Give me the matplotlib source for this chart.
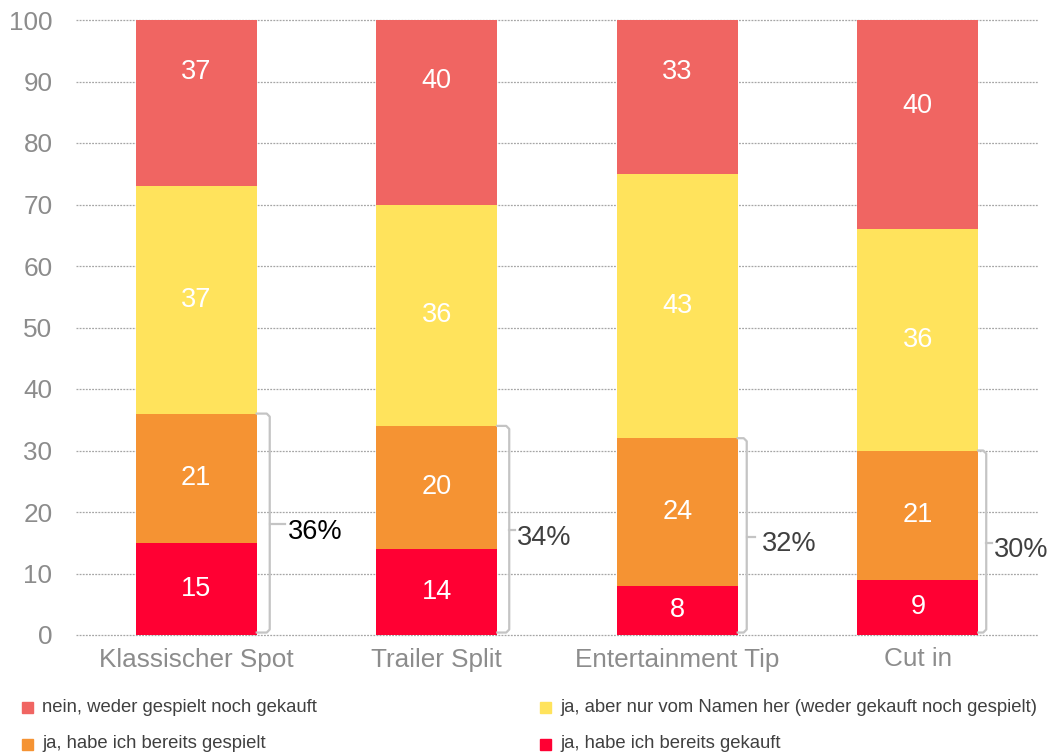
import matplotlib.pyplot as plt
from matplotlib.patches import Rectangle
import numpy as np

plt.rcParams['font.family'] = ['Liberation Sans', 'DejaVu Sans']

# data
categories = ["Klassischer Spot", "Trailer Split", "Entertainment Tip", "Cut in"]
gekauft = [15, 14, 8, 9]
gespielt = [21, 20, 24, 21]
namen = [37, 36, 43, 36]
nein = [37, 40, 33, 40]
bracket_labels = ["36%", "34%", "32%", "30%"]

series_names = ["nein, weder gespielt noch gekauft",
                "ja, aber nur vom Namen her (weder gekauft noch gespielt)",
                "ja, habe ich bereits gespielt",
                "ja, habe ich bereits gekauft"]
colors = {"nein": "#F06562", "namen": "#FFE35C", "gespielt": "#F59333", "gekauft": "#FF0033"}

W, H = 1047, 753
fig = plt.figure(figsize=(W / 100, H / 100), dpi=100)
ax = fig.add_axes([76 / W, 1 - 635 / H, (1038 - 76) / W, (635 - 20) / H])

x = np.arange(len(categories))
bw = 0.503
stack = [("gekauft", gekauft), ("gespielt", gespielt), ("namen", namen), ("nein", nein)]
bottom = np.zeros(len(categories))
for key, vals in stack:
    vals = np.array(vals, dtype=float)
    ax.bar(x, vals, bw, bottom=bottom, color=colors[key], zorder=2)
    for xi, b, v in zip(x, bottom, vals):
        ax.text(xi, b + v / 2, f"{int(v)}", ha="center", va="center",
                color="white", fontsize=19.5, zorder=3)
    bottom += vals

# brackets (offsets in pixels from bar edge: vertical line, tick end, label)
px = 1 / 240.5
offs = [(13, 28, 31), (12, 18, 20), (9, 17, 24), (8, 14, 16)]
label_colors = ["black", "#404040", "#404040", "#404040"]
bc = "#C4C4C4"
for i in range(len(categories)):
    top = gekauft[i] + gespielt[i]
    edge = x[i] + bw / 2
    xv = edge + offs[i][0] * px
    xt = edge + offs[i][1] * px
    mid = top / 2
    ax.plot([edge, xv - 3 * px, xv, xv, xv - 3 * px, edge],
            [top, top, top - 0.5, 0.9, 0.4, 0.4],
            color=bc, lw=1.6, zorder=3, solid_joinstyle="round", clip_on=False)
    ax.plot([xv, xt], [mid, mid], color=bc, lw=1.6, zorder=3)
    ax.text(edge + offs[i][2] * px, mid - 1.2, bracket_labels[i], ha="left", va="center",
            fontsize=19.5, color=label_colors[i], clip_on=False)

ax.set_xlim(-0.5, 3.5)
ax.set_ylim(0, 100)
ax.set_yticks(range(0, 101, 10))
ax.set_xticks(x)
ax.set_xticklabels(categories)
ax.tick_params(axis="both", length=0, labelsize=18.8, colors="#8C8C8C")
ax.tick_params(axis="x", pad=9)
ax.tick_params(axis="y", pad=17)
ax.yaxis.grid(True, color="#A6A6A6", linestyle=(0, (1.5, 1)), lw=0.9, zorder=0)
for gl in ax.yaxis.get_gridlines():
    gl.set_clip_on(False)
ax.set_axisbelow(True)
for s in ax.spines.values():
    s.set_visible(False)

# legend
leg = [(series_names[0], colors["nein"], 22, 707), (series_names[1], colors["namen"], 540, 707),
       (series_names[2], colors["gespielt"], 22, 744), (series_names[3], colors["gekauft"], 540, 744)]
for name, c, lx, ly in leg:
    fig.patches.append(Rectangle((lx / W, 1 - (ly + 6) / H), 11 / W, 11 / H, color=c,
                                 transform=fig.transFigure, figure=fig))
    fig.text((lx + 20) / W, 1 - ly / H, name, ha="left", va="center", fontsize=13.3,
             color="#404040")

fig.savefig("out.png", dpi=100)
